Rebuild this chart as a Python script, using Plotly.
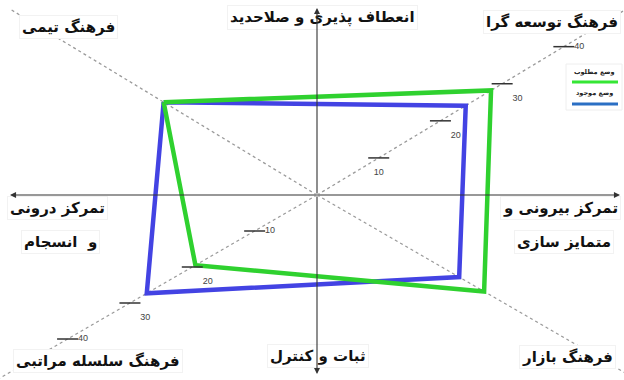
import numpy as np
import plotly.graph_objects as go

# ---------------- data ----------------
quadrants = ["فرهنگ تیمی", "فرهنگ توسعه گرا", "فرهنگ بازار", "فرهنگ سلسله مراتبی"]
existing = [24.9, 24.1, 22.8, 27.3]   # وضع موجود
desired = [24.9, 28.2, 26.8, 19.5]    # وضع مطلوب
tick_values = [10, 20, 30, 40]
tick_labels = ["10", "20", "30", "40"]
series_names = ["وضع موجود", "وضع مطلوب"]

# ---------------- geometry / style ----------------
W, H = 624, 380
PX = 7.2                 # pixels per unit along the diagonals
CX, CY = 317, 195        # centre of the cross in pixels
diag_angles = [148.8, 31.0, -30.0, 210.0]   # clan, adhocracy, market, hierarchy
diag_len = [49.6, 60, 60, 60]
tick_pos_ur = ["bottom center", "bottom right", "bottom right", "middle right"]
tick_pos_ll = ["middle right", "bottom right", "bottom right", "middle right"]

BLUE = "#4343e3"
GREEN = "#2fd12f"
LEG_BLUE = "#2a6fc4"
LEG_GREEN = "#35e635"
FONT = "DejaVu Sans"


def to_xy(vals, angs):
    a = np.radians(np.array(angs))
    v = np.array(vals, dtype=float)
    return v * np.cos(a), v * np.sin(a)


fig = go.Figure()

# dotted diagonals
for ang, L in zip(diag_angles, diag_len):
    dx, dy = to_xy([0, L], [ang, ang])
    fig.add_trace(go.Scatter(x=dx, y=dy, mode="lines",
                             line=dict(color="#9a9a9a", width=1.3, dash="dot"),
                             hoverinfo="skip", showlegend=False))

# polygons
for vals, color, name in [(existing, BLUE, series_names[0]), (desired, GREEN, series_names[1])]:
    px_, py_ = to_xy(vals + vals[:1], diag_angles + diag_angles[:1])
    fig.add_trace(go.Scatter(x=px_, y=py_, mode="lines", name=name,
                             line=dict(color=color, width=4.5),
                             showlegend=False))

# tick marks on the upper-right and lower-left diagonals
for ang, tpos in [(diag_angles[1], tick_pos_ur), (diag_angles[3], tick_pos_ll)]:
    tx, ty = to_xy(tick_values, [ang] * len(tick_values))
    fig.add_trace(go.Scatter(x=tx, y=ty, mode="markers+text",
                             marker=dict(symbol="line-ew", size=15,
                                         line=dict(color="#333333", width=1.5)),
                             text=tick_labels, textposition=tpos,
                             textfont=dict(size=9, color="#444444", family="Arial"),
                             hoverinfo="skip", showlegend=False))

# ---------------- labels ----------------
def P(px, py):
    return px / W, 1 - py / H

labels = [
    ("فرهنگ تیمی", 68, 27, "center"),
    ("انعطاف پذیری و صلاحدید", 322, 17, "center"),
    ("فرهنگ توسعه گرا", 621, 22, "right"),
    ("تمرکز درونی", 57, 208, "center"),
    ("و  انسجام", 60, 242, "center"),
    ("تمرکز بیرونی و", 621, 208, "right"),
    ("متمایز سازی", 614, 242, "right"),
    ("فرهنگ سلسله مراتبی", 98, 361, "center"),
    ("ثبات و کنترل", 318, 356, "center"),
    ("فرهنگ بازار", 567, 357, "center"),
]
for txt, lx, ly, anc in labels:
    xx, yy = P(lx, ly)
    fig.add_annotation(x=xx, y=yy, xref="paper", yref="paper", text="<b>" + txt + "</b>",
                       showarrow=False, font=dict(family=FONT, size=15, color="#111111"),
                       bgcolor="white", bordercolor="#f2f2f2", borderwidth=1,
                       xanchor=anc, yanchor="middle", borderpad=2)

# axes with arrows
xr = [-CX / PX, (W - CX) / PX]
yr = [-(H - CY) / PX, CY / PX]
ax_tips = [(-(CX - 10) / PX, 0), ((620 - CX) / PX, 0), (0, (CY - 8) / PX), (0, -(374 - CY) / PX)]
for tx, ty in ax_tips:
    fig.add_annotation(x=tx, y=ty, ax=0, ay=0, xref="x", yref="y", axref="x", ayref="y",
                       text="", showarrow=True, arrowhead=2, arrowsize=1.1,
                       arrowwidth=1.1, arrowcolor="#333333", standoff=0, startstandoff=0)

# custom legend (text above line sample)
lx0, ly0 = P(566, 64)
lx1, ly1 = P(622, 110)
fig.add_shape(type="rect", xref="paper", yref="paper", x0=lx0, y0=ly0, x1=lx1, y1=ly1,
              line=dict(color="#eeeeee", width=1), fillcolor="white", layer="above")
for name, color, ty, ly in [(series_names[1], LEG_GREEN, 72, 82), (series_names[0], LEG_BLUE, 93, 104)]:
    xx, yy = P(594, ty)
    fig.add_annotation(x=xx, y=yy, xref="paper", yref="paper", text="<b>" + name + "</b>",
                       showarrow=False, font=dict(family=FONT, size=6.5, color="#222222"),
                       xanchor="center", yanchor="middle")
    a0, b0 = P(572, ly)
    a1, _ = P(618, ly)
    fig.add_shape(type="line", xref="paper", yref="paper", x0=a0, y0=b0, x1=a1, y1=b0,
                  line=dict(color=color, width=3), layer="above")

fig.update_layout(
    width=W, height=H, autosize=False,
    margin=dict(l=0, r=0, t=0, b=0),
    paper_bgcolor="white", plot_bgcolor="white",
    showlegend=False,
    xaxis=dict(range=xr, visible=False, fixedrange=True),
    yaxis=dict(range=yr, visible=False, fixedrange=True),
)

fig.write_html("out.html", config={"displayModeBar": False},
               post_script="document.body.style.margin='0px';document.body.style.overflow='hidden';")
